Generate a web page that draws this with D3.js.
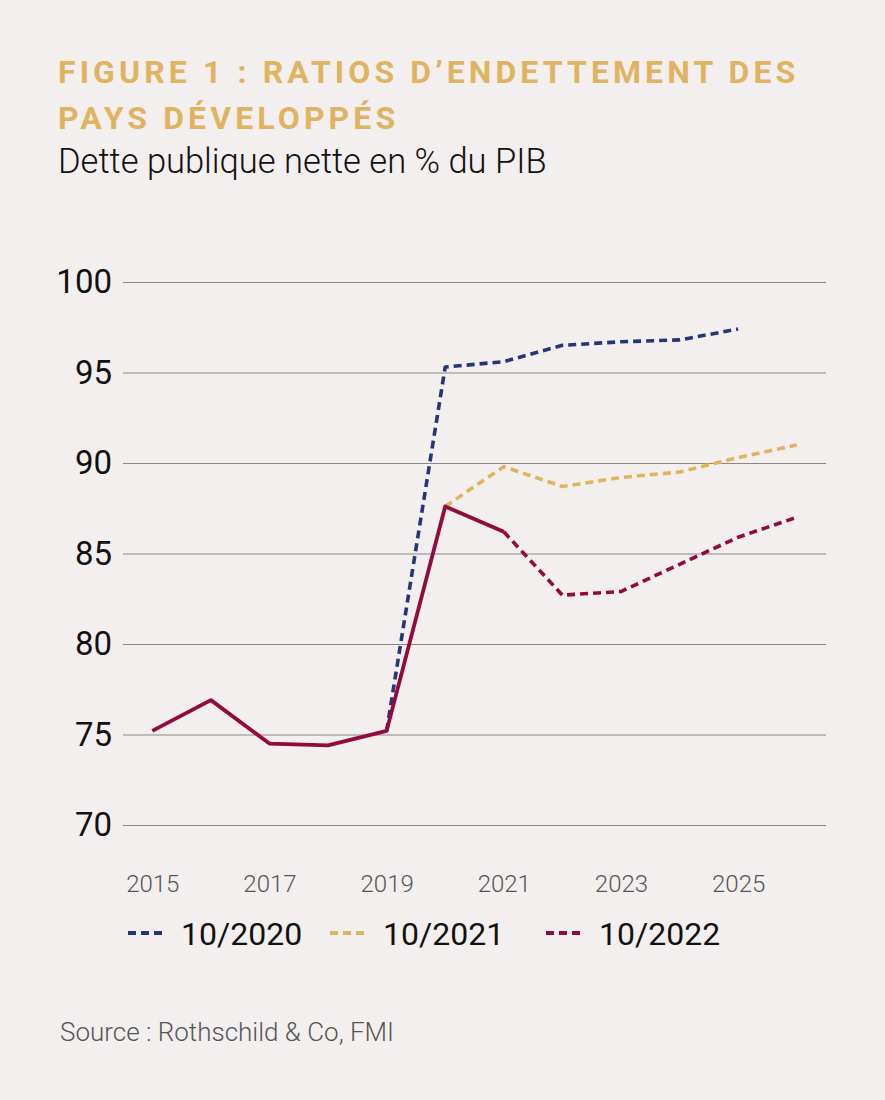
<!DOCTYPE html>
<html>
<head>
<meta charset="utf-8">
<script src="https://cdn.jsdelivr.net/npm/d3@7"></script>
<style>
  body { margin: 0; background: #f3efee; }
  .chart svg { display: block; }
</style>
</head>
<body>
<div class="chart"></div>
<script>
// historical (solid) + forecasts by WEO vintage (dashed)
const histYears = [2015, 2016, 2017, 2018, 2019, 2020, 2021]
const histValues = [75.2, 76.9, 74.5, 74.4, 75.2, 87.6, 86.2]

const years2020 = [2019, 2020, 2021, 2022, 2023, 2024, 2025]
const values2020 = [75.2, 95.3, 95.6, 96.5, 96.7, 96.8, 97.4]

const years2021 = [2020, 2021, 2022, 2023, 2024, 2025, 2026]
const values2021 = [87.6, 89.8, 88.7, 89.2, 89.5, 90.3, 91.0]

const years2022 = [2021, 2022, 2023, 2024, 2025, 2026]
const values2022 = [86.2, 82.7, 82.9, 84.4, 85.9, 87.0]

const yTicks = [70, 75, 80, 85, 90, 95, 100]
const xTicks = [2015, 2017, 2019, 2021, 2023, 2025]
const legendLabels = ["10/2020", "10/2021", "10/2022"]

const width = 885, height = 1100

const svg = d3.select(".chart").append("svg")
    .attr("width", width)
    .attr("height", height)

svg.append("rect")
    .attr("width", width)
    .attr("height", height)
    .attr("fill", "#f3efee")

// titles
const title = svg.append("g")
    .attr("font-family", "Roboto, sans-serif")
    .attr("font-weight", 700)
    .attr("font-size", 32)
    .attr("letter-spacing", 4.1)
    .attr("fill", "#dfb35f")
title.append("text").attr("x", 58).attr("y", 83).text("FIGURE 1 : RATIOS D\u2019ENDETTEMENT DES")
title.append("text").attr("x", 58).attr("y", 129).text("PAYS DÉVELOPPÉS")

svg.append("text")
    .attr("x", 58).attr("y", 173)
    .attr("font-family", "Roboto, sans-serif")
    .attr("font-weight", 300)
    .attr("font-size", 34.5)
    .attr("fill", "#111")
    .text("Dette publique nette en % du PIB")

const xScale = d3.scaleLinear()
    .domain([2014.5, 2026.5])
    .range([123, 826])

const yScale = d3.scaleLinear()
    .domain([70, 100])
    .range([825, 282])

// y axis + gridlines
svg.append("g")
    .attr("class", "axis y-axis")
    .attr("transform", "translate(123,0)")
    .call(d3.axisLeft(yScale).tickValues(yTicks).tickSize(0).tickPadding(11))
    .call(g => g.select(".domain").remove())
    .call(g => g.selectAll(".tick text")
        .attr("font-family", "Roboto, sans-serif")
        .attr("font-size", 33)
        .attr("fill", "#111"))
    .selectAll(".tick")
    .append("line")
    .attr("x2", 826 - 123)
    .attr("stroke", "#8d8883")
    .attr("stroke-width", 1.2)

// x axis
svg.append("g")
    .attr("class", "axis x-axis")
    .attr("transform", "translate(0,825)")
    .call(d3.axisBottom(xScale).tickValues(xTicks).tickFormat(d3.format("d")).tickSize(0).tickPadding(50))
    .call(g => g.select(".domain").remove())
    .selectAll(".tick text")
    .attr("font-family", "Roboto, sans-serif")
    .attr("font-weight", 300)
    .attr("font-size", 24)
    .attr("fill", "#555")

const line = d3.line()
    .x(d => xScale(d[0]))
    .y(d => yScale(d[1]))

const series = [
    {years: years2020, values: values2020, color: "#24367a", dash: "8,5"},
    {years: years2021, values: values2021, color: "#e0b45e", dash: "8,5"},
    {years: years2022, values: values2022, color: "#940a3f", dash: "8,5"},
    {years: histYears, values: histValues, color: "#940a3f", dash: null}
]

svg.append("g")
    .attr("fill", "none")
    .selectAll("path")
    .data(series)
    .join("path")
    .attr("stroke", d => d.color)
    .attr("stroke-width", d => d.dash ? 3.6 : 3.8)
    .attr("stroke-dasharray", d => d.dash)
    .attr("stroke-linejoin", "round")
    .attr("d", d => line(d.years.map((y, i) => [y, d.values[i]])))

// legend
const legendX = [128, 330, 546]
const legend = svg.append("g")
    .selectAll("g")
    .data(legendLabels)
    .join("g")
    .attr("transform", (d, i) => `translate(${legendX[i]},933)`)

legend.append("line")
    .attr("x1", 0).attr("x2", 34)
    .attr("stroke", (d, i) => series[i].color)
    .attr("stroke-width", 4)
    .attr("stroke-dasharray", "8,5")

legend.append("text")
    .attr("x", 53)
    .attr("y", 12)
    .attr("font-family", "Roboto, sans-serif")
    .attr("font-size", 32)
    .attr("fill", "#111")
    .text(d => d)

svg.append("text")
    .attr("x", 60).attr("y", 1041)
    .attr("font-family", "Roboto, sans-serif")
    .attr("font-weight", 300)
    .attr("font-size", 26)
    .attr("fill", "#555")
    .text("Source : Rothschild & Co, FMI")
</script>
</body>
</html>
